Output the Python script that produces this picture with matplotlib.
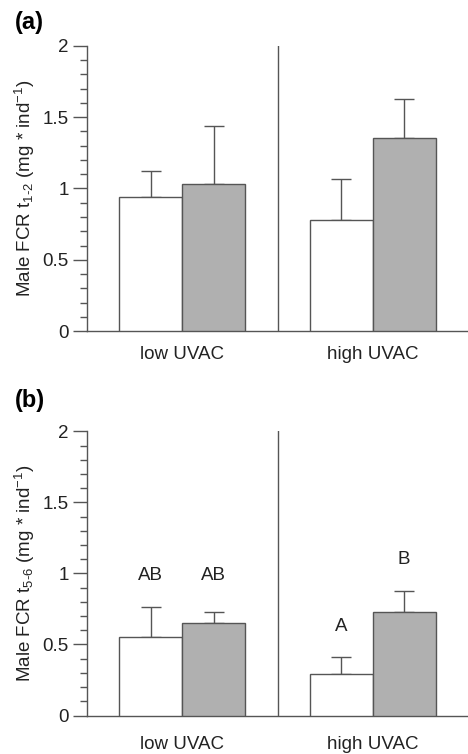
import numpy as np
import matplotlib
matplotlib.use("Agg")
import matplotlib.pyplot as plt
from matplotlib.ticker import MultipleLocator

plt.rcParams['font.family'] = ['Liberation Sans', 'DejaVu Sans']
plt.rcParams['mathtext.fontset'] = 'custom'
plt.rcParams['mathtext.rm'] = 'Liberation Sans'
plt.rcParams['mathtext.it'] = 'Liberation Sans:italic'
plt.rcParams['mathtext.bf'] = 'Liberation Sans:bold'

# data
groups = ["low UVAC", "high UVAC"]

a_white = [0.94, 0.78]
a_white_err = [0.18, 0.29]
a_grey = [1.035, 1.355]
a_grey_err = [0.405, 0.275]

b_white = [0.553, 0.295]
b_white_err = [0.209, 0.115]
b_grey = [0.649, 0.727]
b_grey_err = [0.08, 0.149]
b_white_letters = ["AB", "A"]
b_grey_letters = ["AB", "B"]

line_col = '#555555'
txt_col = '#222222'
grey_fill = '#b0b0b0'
width = 0.33
fs = 13.5

fig = plt.figure(figsize=(4.68, 7.54), dpi=100)
ax_a = fig.add_axes([0.186, 0.561, 0.814, 0.378])
ax_b = fig.add_axes([0.186, 0.051, 0.814, 0.377])


def draw_panel(ax, white, white_err, grey, grey_err, ylabel, pad):
    x = np.arange(len(groups))
    xw = x - width / 2
    xg = x + width / 2
    ax.bar(xw, white, width, color='white', edgecolor=line_col, linewidth=1.0, zorder=3)
    ax.bar(xg, grey, width, color=grey_fill, edgecolor=line_col, linewidth=1.0, zorder=3)
    ax.errorbar(xw, white, yerr=[np.zeros(len(white)), white_err], fmt='none',
                ecolor=line_col, elinewidth=1.0, capsize=7, capthick=1.0, zorder=2)
    ax.errorbar(xg, grey, yerr=[np.zeros(len(grey)), grey_err], fmt='none',
                ecolor=line_col, elinewidth=1.0, capsize=7, capthick=1.0, zorder=2)

    # separator between groups
    ax.axvline(0.5, color=line_col, linewidth=1.0)

    ax.set_xlim(-0.5, 1.5)
    ax.set_ylim(0, 2)
    ax.set_xticks(x)
    ax.set_xticklabels(groups, fontsize=fs, color=txt_col)
    ax.tick_params(axis='x', length=0, pad=pad)

    ax.yaxis.set_major_locator(MultipleLocator(0.5))
    ax.yaxis.set_minor_locator(MultipleLocator(0.1))
    ax.yaxis.set_major_formatter(lambda v, pos: f"{v:g}")
    ax.tick_params(axis='y', which='major', length=10, width=1.0, color=line_col,
                   labelsize=fs, labelcolor=txt_col, pad=3)
    ax.tick_params(axis='y', which='minor', length=5, width=1.0, color=line_col)

    for side in ['top', 'right']:
        ax.spines[side].set_visible(False)
    for side in ['left', 'bottom']:
        ax.spines[side].set_color(line_col)
        ax.spines[side].set_linewidth(1.0)

    ax.set_ylabel(ylabel, fontsize=fs, color=txt_col, labelpad=4)
    return xw, xg


draw_panel(ax_a, a_white, a_white_err, a_grey, a_grey_err,
           r"Male FCR t$_{1\text{-}2}$ (mg * ind$^{-1}$)", pad=11)
xw, xg = draw_panel(ax_b, b_white, b_white_err, b_grey, b_grey_err,
                    r"Male FCR t$_{5\text{-}6}$ (mg * ind$^{-1}$)", pad=15)

# significance letters above the error bars
caps_w = np.array(b_white) + np.array(b_white_err) + 0.22
caps_g = np.array(b_grey) + np.array(b_grey_err) + 0.22
caps_g[0] = caps_w[0] = max(caps_w[0], caps_g[0])
for xi, yi, s in zip(xw, caps_w, b_white_letters):
    ax_b.text(xi, yi, s, ha='center', va='center', fontsize=fs, color=txt_col)
for xi, yi, s in zip(xg, caps_g, b_grey_letters):
    ax_b.text(xi, yi, s, ha='center', va='center', fontsize=fs, color=txt_col)

fig.text(15 / 468, 1 - 23 / 754, "(a)", fontsize=17, fontweight='bold', va='center')
fig.text(15 / 468, 1 - 401 / 754, "(b)", fontsize=17, fontweight='bold', va='center')

fig.savefig("out.png", dpi=100)
